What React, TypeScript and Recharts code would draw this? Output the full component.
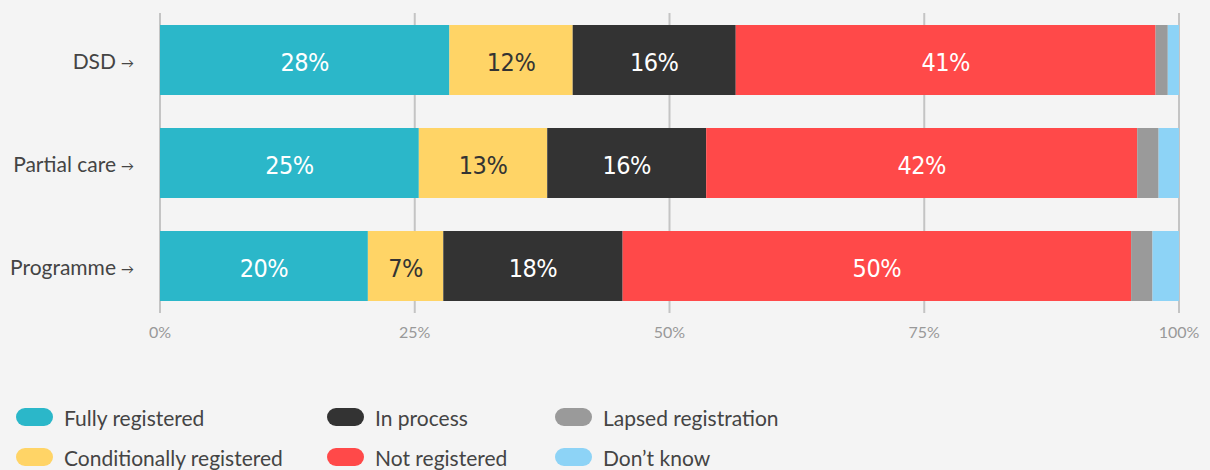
import React from "react";
import { Bar, BarChart, CartesianGrid, LabelList, XAxis, YAxis } from "recharts";

const categories = ["DSD", "Partial care", "Programme"];
const fullyRegistered = [28.4, 25.4, 20.4];
const conditionallyRegistered = [12.1, 12.6, 7.4];
const inProcess = [16.0, 15.6, 17.6];
const notRegistered = [41.2, 42.3, 49.9];
const lapsedRegistration = [1.2, 2.1, 2.1];
const dontKnow = [1.1, 2.0, 2.6];
const xTicks = [0, 25, 50, 75, 100];

const series = [
  { key: "fully", name: "Fully registered", values: fullyRegistered, color: "#2bb7c9", text: "#ffffff" },
  { key: "conditional", name: "Conditionally registered", values: conditionallyRegistered, color: "#ffd466", text: "#333333" },
  { key: "process", name: "In process", values: inProcess, color: "#333333", text: "#ffffff" },
  { key: "not", name: "Not registered", values: notRegistered, color: "#ff4949", text: "#ffffff" },
  { key: "lapsed", name: "Lapsed registration", values: lapsedRegistration, color: "#9a9a9a", text: "#ffffff" },
  { key: "dontknow", name: "Don\u2019t know", values: dontKnow, color: "#8dd3f6", text: "#333333" },
];

const data = categories.map((name, i) => {
  const row: { [k: string]: any } = { name };
  series.forEach((s) => (row[s.key] = s.values[i]));
  return row;
});

// legend columns, ordered like the reference (column-wise)
const legendOrder = [
  ["fully", "conditional"],
  ["process", "not"],
  ["lapsed", "dontknow"],
];
const legendX = [16, 327, 555];

const CategoryTick = ({ x, y, payload }: any) => (
  <text x={x} y={y} dy={9} textAnchor="end" fontFamily="Lato" fontSize={21} fill="#444">
    {payload.value}
    <tspan fontSize={13} dx={5} dy={-1}>{"\u2192"}</tspan>
  </text>
);

const makeLabel = (color: string) => (props: any) => {
  const { x, y, width, height, value } = props;
  if (value < 5) return null;
  return (
    <text
      x={x + width / 2}
      y={y + height / 2}
      dy={11}
      textAnchor="middle"
      fontFamily="'DejaVu Sans Condensed', Roboto"
      style={{ fontStretch: "condensed" }}
      fontSize={25}
      letterSpacing={-0.5}
      fill={color}
    >
      {Math.round(value)}%
    </text>
  );
};

export default function App() {
  return (
    <div style={{ position: "relative", width: 1210, height: 470, background: "#f4f4f4" }}>
      <style>{"body{margin:0;background:#f4f4f4}"}</style>
      <BarChart
        width={1210}
        height={350}
        data={data}
        layout="vertical"
        margin={{ top: 8, right: 31, bottom: 3, left: 0 }}
        barSize={70}
      >
        <CartesianGrid horizontal={false} stroke="#c4c4c4" strokeWidth={2} y={13} height={300} />
        <XAxis
          type="number"
          domain={[0, 100]}
          ticks={xTicks}
          tickFormatter={(v) => v + "%"}
          axisLine={false}
          tickLine={false}
          tickSize={0}
          tickMargin={10}
          height={30}
          tick={{ fill: "#999", fontSize: 16, fontFamily: "Lato" }}
        />
        <YAxis
          type="category"
          dataKey="name"
          width={160}
          axisLine={false}
          tickLine={false}
          tickSize={0}
          tickMargin={26}
          tick={<CategoryTick />}
        />
        {series.map((s) => (
          <Bar key={s.key} dataKey={s.key} stackId="a" fill={s.color} isAnimationActive={false}>
            <LabelList dataKey={s.key} content={makeLabel(s.text)} />
          </Bar>
        ))}
      </BarChart>
      {legendOrder.map((col, ci) =>
        col.map((k, ri) => {
          const s = series.find((d) => d.key === k)!;
          return (
            <div
              key={k}
              style={{
                position: "absolute",
                left: legendX[ci],
                top: 408 + ri * 40,
                height: 18,
                display: "flex",
                alignItems: "center",
                fontFamily: "Lato",
                fontSize: 21,
                color: "#444",
                whiteSpace: "nowrap",
              }}
            >
              <span
                style={{
                  display: "inline-block",
                  width: 37,
                  height: 18,
                  borderRadius: 9,
                  background: s.color,
                  marginRight: 11,
                }}
              />
              {s.name}
            </div>
          );
        })
      )}
    </div>
  );
}
